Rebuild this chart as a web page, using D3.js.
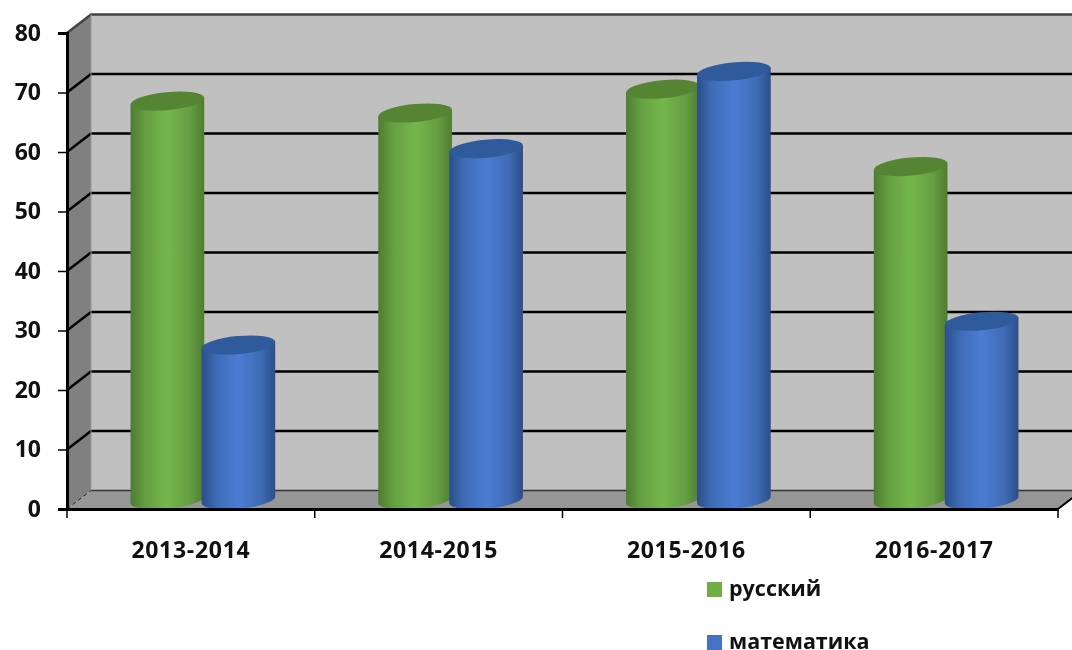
<!DOCTYPE html>
<html>
<head>
<meta charset="utf-8">
<script src="https://cdn.jsdelivr.net/npm/d3@7"></script>
<style>
  html, body { margin: 0; padding: 0; background: #fff; overflow: hidden; }
  svg { display: block; filter: blur(0.5px); }
  text { font-family: "Open Sans", sans-serif; font-weight: 700; fill: #111; }
</style>
</head>
<body>
<div id="chart"></div>
<script>
const categories = ["2013-2014", "2014-2015", "2015-2016", "2016-2017"];
const seriesNames = ["русский", "математика"];
const russian = [67, 65, 69, 56];
const maths = [26, 59, 72, 30];
const yTicks = [0, 10, 20, 30, 40, 50, 60, 70, 80];

const width = 1072;
const height = 650;
const depthX = 24;
const depthY = 18.5;

const colors = {
  "русский": { edge: "#4d7d30", soft: "#669f42", mid: "#75b64c", top: "#558433", key: "#70ad47" },
  "математика": { edge: "#2a4f88", soft: "#3f6cb6", mid: "#4a7cd2", top: "#2f5a9b", key: "#4472c4" }
};

const svg = d3.select("#chart")
  .append("svg")
  .attr("width", width)
  .attr("height", height);

const xScale = d3.scaleBand().domain(categories).range([67, 1058]);
const yScale = d3.scaleLinear().domain([0, 80]).range([509, 33]);
const xInner = d3.scaleBand().domain(seriesNames).range([-71, 71]);

const defs = svg.append("defs");
seriesNames.forEach((name, i) => {
  const grad = defs.append("linearGradient").attr("id", "cyl" + i);
  grad.append("stop").attr("offset", "0%").attr("stop-color", colors[name].edge);
  grad.append("stop").attr("offset", "20%").attr("stop-color", colors[name].soft);
  grad.append("stop").attr("offset", "50%").attr("stop-color", colors[name].mid);
  grad.append("stop").attr("offset", "80%").attr("stop-color", colors[name].soft);
  grad.append("stop").attr("offset", "100%").attr("stop-color", colors[name].edge);
});

// walls and floor
const left = xScale.range()[0], right = xScale.range()[1];
const y0 = yScale(0), yTop = yScale(80);

svg.append("polygon")
  .attr("points", [[left + depthX, yTop - depthY], [right + depthX, yTop - depthY], [right + depthX, y0 - depthY], [left + depthX, y0 - depthY]].join(" "))
  .attr("fill", "#c0c0c0");
svg.append("polygon")
  .attr("points", [[left, yTop], [left + depthX, yTop - depthY], [left + depthX, y0 - depthY], [left, y0]].join(" "))
  .attr("fill", "#808080");
svg.append("polygon")
  .attr("points", [[left, y0], [left + depthX, y0 - depthY], [right + depthX, y0 - depthY], [right, y0]].join(" "))
  .attr("fill", "#969696");

// gridlines run along the back wall and down the side wall
svg.append("g")
  .selectAll("path")
  .data(yTicks.filter(d => d > 0))
  .enter()
  .append("path")
  .attr("d", d => `M${left},${yScale(d)}L${left + depthX},${yScale(d) - depthY}L${right + depthX},${yScale(d) - depthY}`)
  .attr("fill", "none")
  .attr("stroke", d => d === 80 ? "#444" : "#000")
  .attr("stroke-width", 2.5);

svg.append("line")
  .attr("x1", left + depthX).attr("x2", right + depthX)
  .attr("y1", y0 - depthY).attr("y2", y0 - depthY)
  .attr("stroke", "#333")
  .attr("stroke-width", 1.5);

svg.append("line")
  .attr("x1", left).attr("x2", left + depthX)
  .attr("y1", y0).attr("y2", y0 - depthY)
  .attr("stroke", "#222")
  .attr("stroke-dasharray", "4,3");

svg.append("line")
  .attr("x1", left + depthX).attr("x2", left + depthX)
  .attr("y1", yTop - depthY).attr("y2", y0 - depthY)
  .attr("stroke", "#999");

svg.append("line")
  .attr("x1", right).attr("x2", right + depthX)
  .attr("y1", y0).attr("y2", y0 - depthY)
  .attr("stroke", "#000")
  .attr("stroke-width", 2);

// cylinders
const rx = 37;
const ry = 9;
const tilt = -5.4;
const tiltRad = tilt * Math.PI / 180;
const dx = rx * Math.cos(tiltRad);
const dy = rx * Math.sin(tiltRad);
const angles = d3.range(0, 37).map(k => Math.PI - k * Math.PI / 36);

const bodyLine = d3.line();

function drawSeries(name, values, i) {
  const g = svg.append("g");
  const cx = j => xScale(categories[j]) + xScale.bandwidth() / 2 + xInner(name) + xInner.bandwidth() / 2 + depthX / 2;
  const topY = d => yScale(d) - depthY / 2;
  const baseY = y0 - depthY / 2;

  g.selectAll("path.body")
    .data(values)
    .enter()
    .append("path")
    .attr("class", "body")
    .attr("fill", `url(#cyl${i})`)
    .attr("d", (d, j) => {
      const c = cx(j), t = topY(d);
      // lower half of the base ellipse, sampled left to right
      const base = angles.map(a => {
        const ex = rx * Math.cos(a), ey = ry * Math.sin(a);
        return [c + ex * Math.cos(tiltRad) - ey * Math.sin(tiltRad),
                baseY + ex * Math.sin(tiltRad) + ey * Math.cos(tiltRad)];
      });
      return bodyLine([[c - dx, t - dy], ...base, [c + dx, t + dy]]) + "Z";
    });

  g.selectAll("ellipse")
    .data(values)
    .enter()
    .append("ellipse")
    .attr("rx", rx)
    .attr("ry", ry)
    .attr("fill", colors[name].top)
    .attr("transform", (d, j) => `translate(${cx(j)},${topY(d)}) rotate(${tilt})`);
}

drawSeries(seriesNames[0], russian, 0);
drawSeries(seriesNames[1], maths, 1);

// axes
const yAxis = d3.axisLeft(yScale).tickValues(yTicks).tickSize(9).tickPadding(17);
const yG = svg.append("g").attr("transform", `translate(${left}, 0)`).call(yAxis);
yG.select(".domain").attr("stroke", "#000").attr("stroke-width", 3);
yG.selectAll(".tick line").attr("stroke", "#000").attr("stroke-width", 1.5);
yG.selectAll("text").style("font-size", "23px").attr("fill", "#111");

const xAxis = d3.axisBottom(xScale).tickSize(0).tickPadding(33).tickSizeOuter(0);
const xG = svg.append("g").attr("transform", `translate(0, ${y0})`).call(xAxis);
xG.select(".domain").attr("stroke", "#000").attr("stroke-width", 3);
xG.selectAll("text").style("font-size", "23px").style("letter-spacing", "0.7px").attr("fill", "#111");

svg.append("g")
  .selectAll("line")
  .data(categories.map(c => xScale(c)).concat([right]))
  .enter()
  .append("line")
  .attr("x1", d => d).attr("x2", d => d)
  .attr("y1", y0).attr("y2", y0 + 9)
  .attr("stroke", "#000")
  .attr("stroke-width", 1.5);

// legend
const legend = svg.append("g")
  .selectAll("g")
  .data(seriesNames)
  .enter()
  .append("g")
  .attr("transform", (d, i) => `translate(707, ${582 + i * 53})`);

legend.append("rect")
  .attr("width", 15)
  .attr("height", 15)
  .attr("fill", d => colors[d].key);

legend.append("text")
  .attr("x", 22)
  .attr("y", 14)
  .style("font-size", "21.5px")
  .text(d => d);
</script>
</body>
</html>
